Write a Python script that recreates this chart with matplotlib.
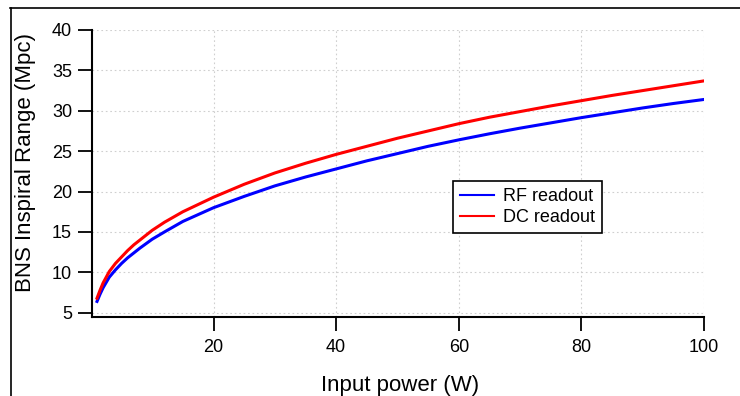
import matplotlib
matplotlib.use("Agg")
import matplotlib.pyplot as plt
from matplotlib.lines import Line2D

# Input power (W) and BNS range (Mpc)
power = [1, 1.5, 2, 3, 4, 5, 6, 7, 8, 10, 12, 15, 20, 25, 30, 35, 40, 45, 50,
         55, 60, 65, 70, 75, 80, 85, 90, 95, 100]
rf_range = [6.4, 7.3, 8.1, 9.4, 10.3, 11.1, 11.8, 12.4, 13.0, 14.1, 15.0, 16.3,
            18.0, 19.4, 20.7, 21.8, 22.8, 23.8, 24.7, 25.6, 26.4, 27.15, 27.85,
            28.5, 29.15, 29.75, 30.35, 30.9, 31.4]
dc_range = [6.8, 7.8, 8.7, 10.1, 11.1, 11.9, 12.7, 13.4, 14.0, 15.2, 16.2, 17.5,
            19.3, 20.9, 22.3, 23.5, 24.6, 25.6, 26.6, 27.5, 28.4, 29.2, 29.9,
            30.6, 31.25, 31.9, 32.5, 33.1, 33.7]
x_ticks = [20, 40, 60, 80, 100]
y_ticks = [5, 10, 15, 20, 25, 30, 35, 40]

plt.rcParams["font.family"] = ["Liberation Sans", "DejaVu Sans"]

W, H = 740, 396
fig = plt.figure(figsize=(W / 100, H / 100), dpi=100)
ax = fig.add_axes([91.5 / W, 1 - 317 / H, (704 - 91.5) / W, (317 - 30) / H])

ax.plot(power, rf_range, color="#0000ff", lw=2.2, label="RF readout")
ax.plot(power, dc_range, color="#ff0000", lw=2.2, label="DC readout")

ax.set_xlim(0.1, 100)
ax.set_ylim(4.47, 40)
ax.set_xticks(x_ticks)
ax.set_yticks(y_ticks)
ax.grid(True, color="#cfcfcf", linestyle=(0, (1.5, 2.5)), lw=0.8)
ax.set_axisbelow(True)

for side in ("top", "right"):
    ax.spines[side].set_visible(False)
for side in ("left", "bottom"):
    ax.spines[side].set_linewidth(1.5)
ax.tick_params(direction="out", length=10, width=1.3, labelsize=13, colors="black")
ax.tick_params(axis="x", pad=6)
ax.tick_params(axis="y", pad=4)

fig.text(26 / W, 1 - 163 / H, "BNS Inspiral Range (Mpc)", rotation=90,
         ha="center", va="center", fontsize=16)
fig.text(400 / W, 1 - 385 / H, "Input power (W)", ha="center", va="center", fontsize=16)

leg = ax.legend(loc="upper left", bbox_to_anchor=(453 / W, 1 - 181 / H),
                bbox_transform=fig.transFigure, fancybox=False, framealpha=1,
                edgecolor="black", fontsize=13, handlelength=1.85, borderaxespad=0,
                borderpad=0.4, labelspacing=0.2, handletextpad=0.5)
leg.get_frame().set_linewidth(1.2)
for h in leg.get_lines():
    h.set_linewidth(1.5)

# outer frame lines (top and left)
fig.add_artist(Line2D([10 / W, 1], [1 - 7.5 / H, 1 - 7.5 / H], color="black", lw=1.2))
fig.add_artist(Line2D([11 / W, 11 / W], [0, 1 - 7.5 / H], color="black", lw=1.2))

fig.savefig("out.png", dpi=100)
